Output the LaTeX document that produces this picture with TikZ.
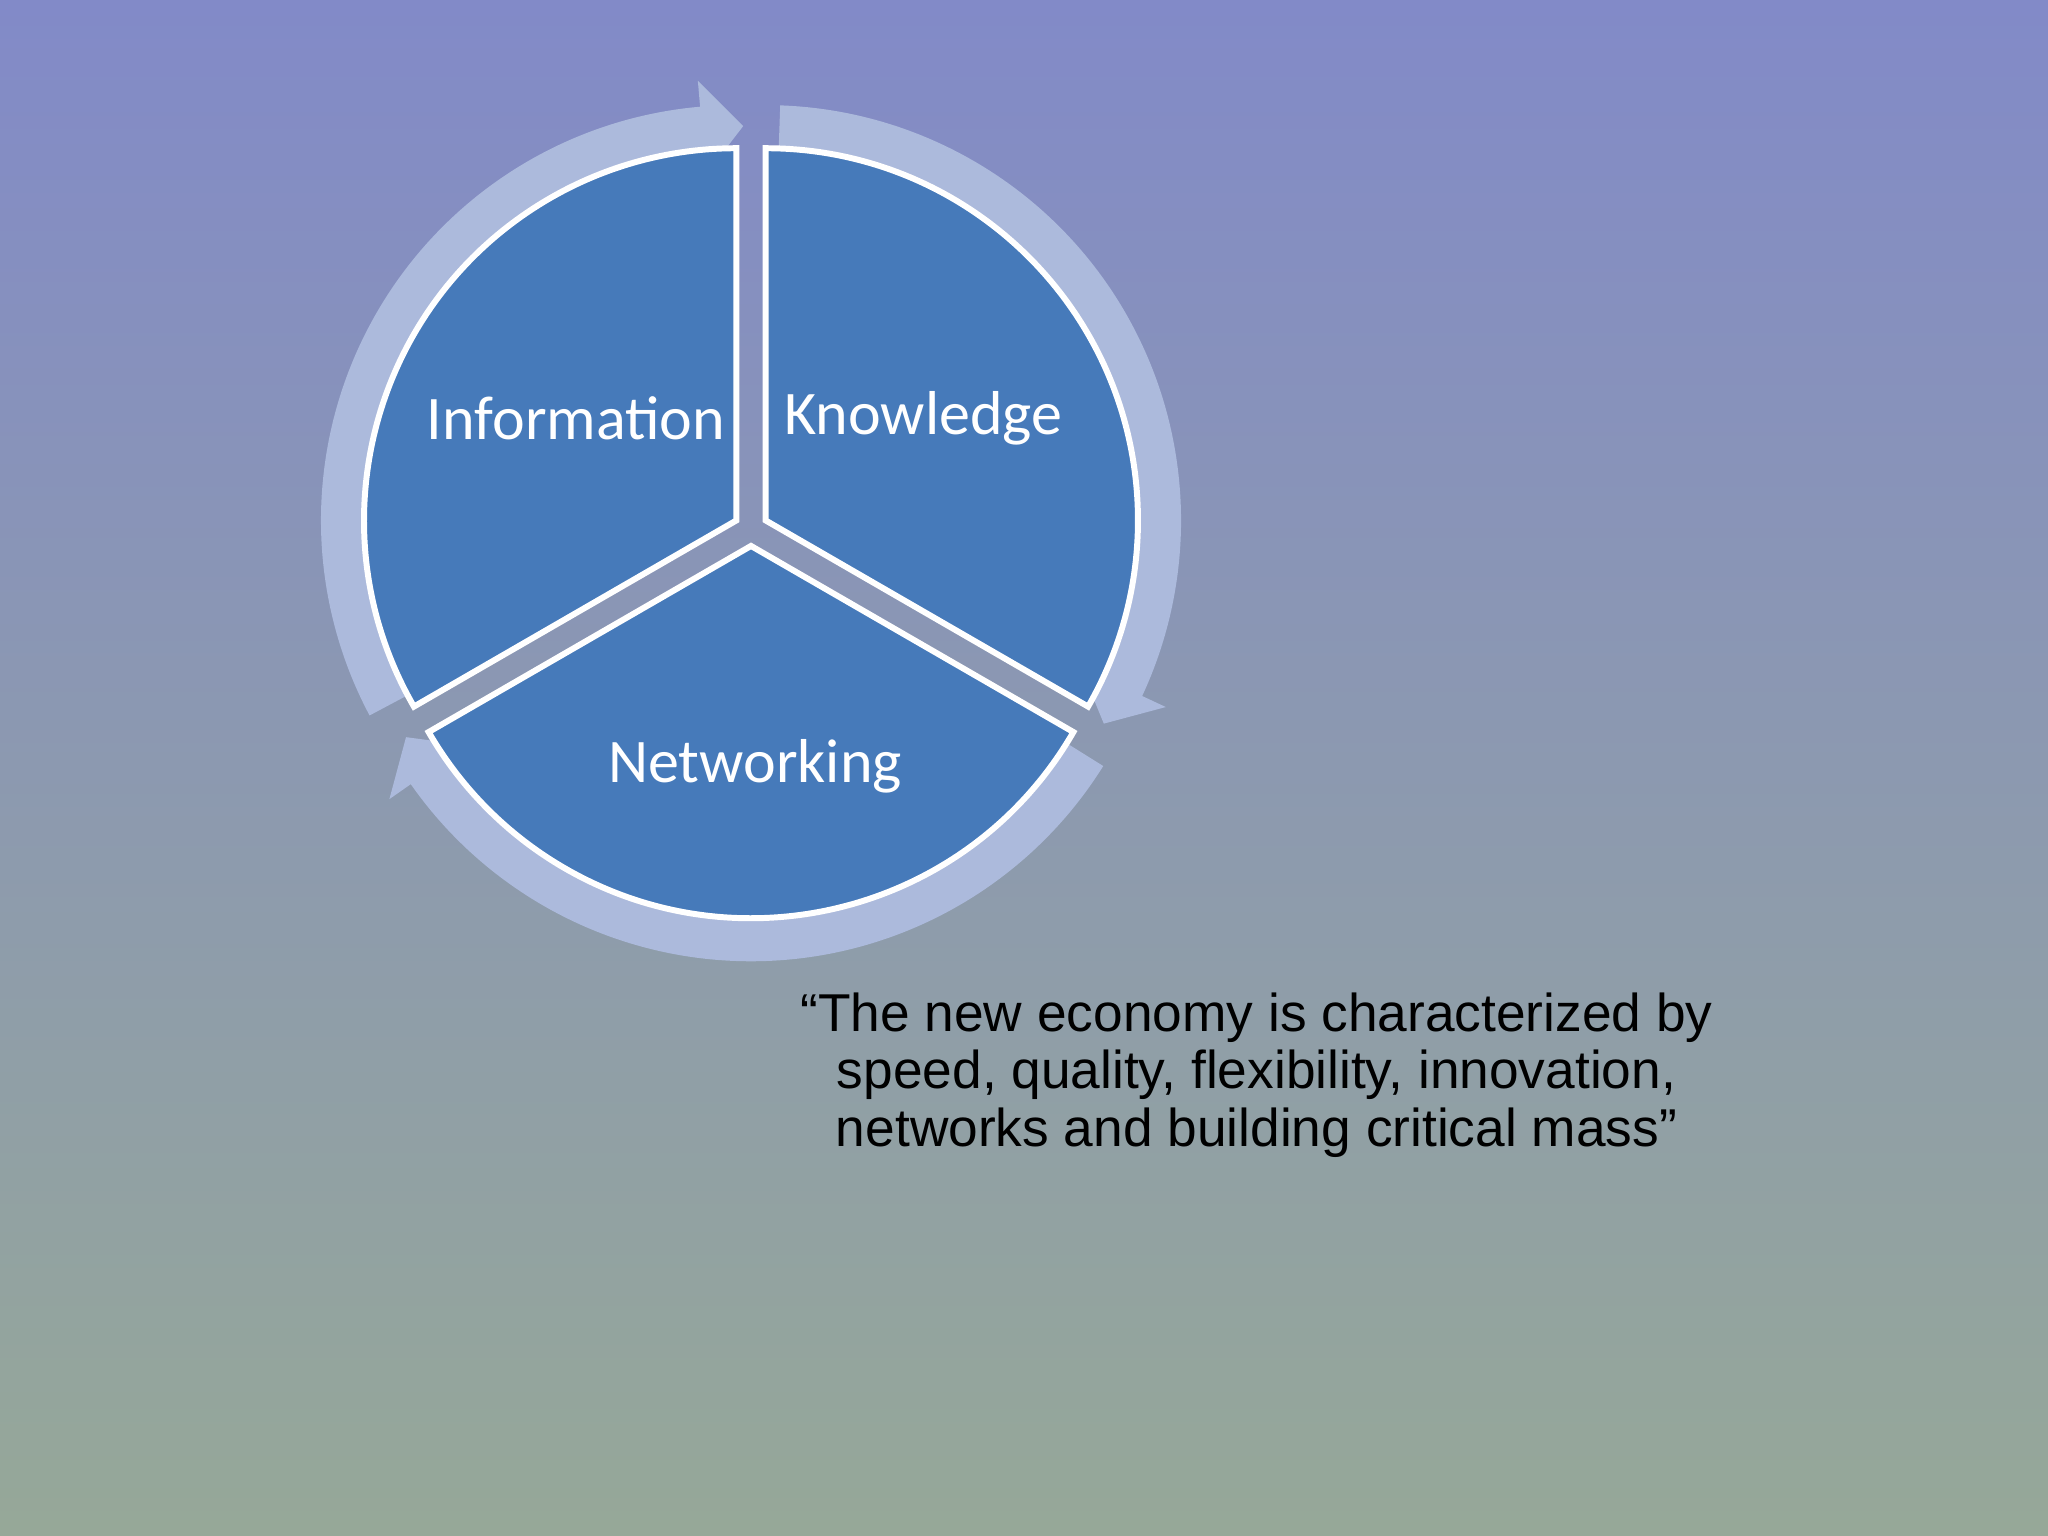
\documentclass[tikz,border=0pt]{standalone}
\usetikzlibrary{calc}
\usepackage{fontspec}
\setmainfont{Liberation Sans}
\newfontfamily\calib{Carlito}
\definecolor{pie}{RGB}{70,122,186}
\definecolor{ringc}{RGB}{172,186,220}
\definecolor{bgtop}{RGB}{130,138,200}
\definecolor{bgbot}{RGB}{150,168,152}
\tikzset{lbl/.style={text=white,font=\calib\fontsize{13.5}{15}\selectfont}}
\begin{document}
\begin{tikzpicture}[x=0.01cm,y=0.01cm]
\shade[top color=bgtop,bottom color=bgbot] (0,0) rectangle (1568,1176);
\useasboundingbox (0,0) rectangle (1568,1176);
\coordinate (O) at (575,771);
\foreach \b in {150,30,270}{
  \pgfmathsetmacro{\s}{\b+58}
  \pgfmathsetmacro{\e}{\b-55}
  \pgfmathsetmacro{\t}{\b-61}
  \pgfmathsetmacro{\p}{\b+60}
  \pgfmathsetmacro{\q}{\b-60}
  \coordinate (c\b) at ($(O)+(\b:13)$);
  \fill[ringc] ($(c\b)+(\s:318)$) arc[start angle=\s,end angle=\e,radius=318]
    -- ($(c\b)+(\e:338)$) -- ($(c\b)+(\t:302)$) -- ($(c\b)+(\e:266)$)
    -- ($(c\b)+(\e:287)$) arc[start angle=\e,end angle=\s,radius=287] -- cycle;
  \draw[white,line width=1.3pt,fill=pie] (c\b) -- ($(c\b)+(\p:285)$)
    arc[start angle=\p,end angle=\q,radius=285] -- cycle;
}
\node[lbl] (info) at (441,856) {Information};
\node[lbl] (know) at (707,856) {Knowledge};
\node[lbl] (net) at (578,589) {Networking};
\node[align=center,font=\fontsize{11.6}{12.5}\selectfont] (quote) at (962,353)
 {“The new economy is characterized by\\ speed, quality, flexibility, innovation,\\ networks and building critical mass”};
\end{tikzpicture}
\end{document}
